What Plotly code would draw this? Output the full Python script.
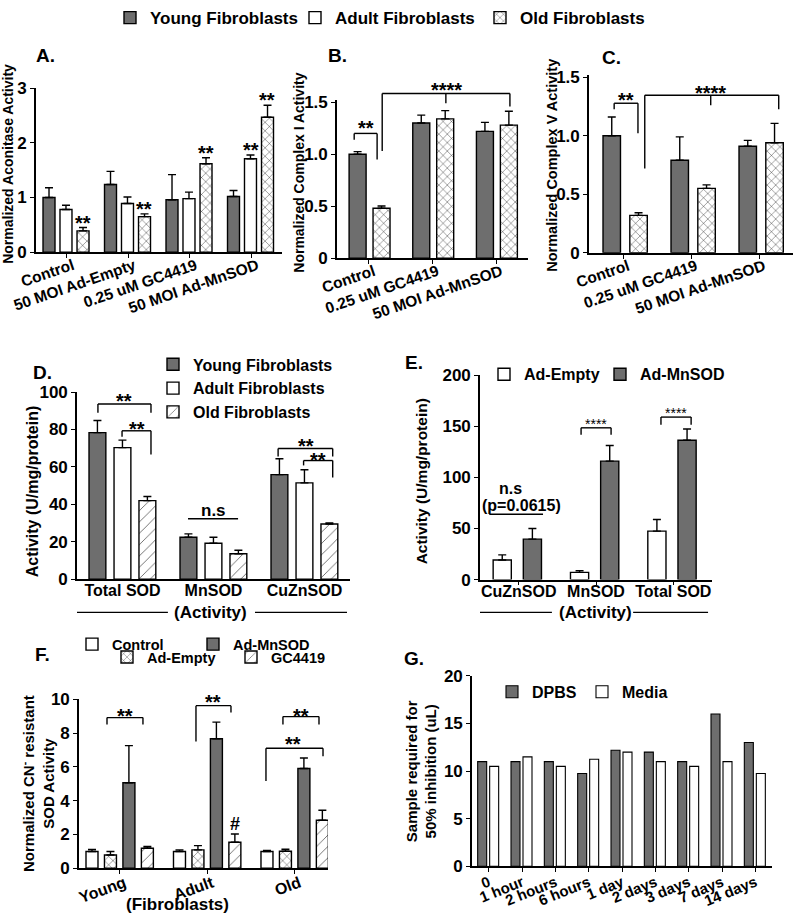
import plotly.graph_objects as go

FONT = "Arial, Liberation Sans, sans-serif"
YOUNG_GREY = "#6e6e6e"

# ---- panel A: aconitase activity
a_cats = ["Control", "50 MOI Ad-Empty", "0.25 uM GC4419", "50 MOI Ad-MnSOD"]
a_young = [1.00, 1.24, 0.96, 1.02]
a_young_err = [0.18, 0.24, 0.46, 0.11]
a_adult = [0.78, 0.89, 0.98, 1.71]
a_adult_err = [0.08, 0.12, 0.12, 0.07]
a_old = [0.39, 0.65, 1.62, 2.47]
a_old_err = [0.06, 0.05, 0.11, 0.22]

# ---- panel B: complex I
b_cats = ["Control", "0.25 uM GC4419", "50 MOI Ad-MnSOD"]
b_young = [1.00, 1.30, 1.22]
b_young_err = [0.025, 0.076, 0.086]
b_old = [0.48, 1.34, 1.28]
b_old_err = [0.022, 0.08, 0.133]

# ---- panel C: complex V
c_cats = ["Control", "0.25 uM GC4419", "50 MOI Ad-MnSOD"]
c_young = [1.00, 0.79, 0.91]
c_young_err = [0.16, 0.20, 0.05]
c_old = [0.32, 0.55, 0.94]
c_old_err = [0.022, 0.03, 0.165]

# ---- panel D: SOD activity by age
d_cats = ["Total SOD", "MnSOD", "CuZnSOD"]
d_young = [78.3, 22.4, 55.9]
d_young_err = [6.5, 1.8, 8.5]
d_adult = [70.3, 19.2, 51.5]
d_adult_err = [4.0, 3.2, 7.0]
d_old = [42.0, 13.6, 29.5]
d_old_err = [2.2, 1.9, 0.5]

# ---- panel E: Ad-Empty vs Ad-MnSOD
e_cats = ["CuZnSOD", "MnSOD", "Total SOD"]
e_empty = [19.2, 7.1, 47.4]
e_empty_err = [5.0, 1.7, 11.4]
e_mnsod = [39.6, 115.9, 136.4]
e_mnsod_err = [10.4, 15.3, 11.0]

# ---- panel F: CN- resistant SOD
f_cats = ["Young", "Adult", "Old"]
f_control = [0.98, 0.98, 0.98]
f_control_err = [0.12, 0.10, 0.06]
f_empty = [0.78, 1.08, 1.00]
f_empty_err = [0.20, 0.25, 0.12]
f_mnsod = [5.06, 7.67, 5.90]
f_mnsod_err = [2.20, 0.98, 0.63]
f_gc = [1.18, 1.53, 2.84]
f_gc_err = [0.10, 0.49, 0.59]

# ---- panel G: sample stability
g_cats = ["0", "1 hour", "2 hours", "6 hours", "1 day", "2 days", "3 days", "7 days", "14 days"]
g_dpbs = [11.0, 11.0, 11.0, 9.75, 12.2, 12.0, 11.0, 16.0, 13.0]
g_media = [10.5, 11.5, 10.5, 11.25, 12.0, 11.0, 10.5, 11.0, 9.75]

W, H = 800, 920
OUT = dict(color="black", width=1.4)
SOLID = dict(color=YOUNG_GREY, line=OUT)
WHITE = dict(color="white", line=OUT)
CROSS = dict(color="white", line=OUT,
             pattern=dict(shape="x", fgcolor="black", bgcolor="white", size=6, solidity=0.12))
HATCH = dict(color="white", line=OUT,
             pattern=dict(shape="/", fgcolor="#555", bgcolor="white", size=8, solidity=0.1))

# axis boxes in pixels (left, right, top, bottom) and ranges
panels = {
    "":  dict(px=(36, 282, 82, 247), xr=(-0.5, 3.5), yr=(0, 3)),
    "2": dict(px=(337, 528, 93.9, 253), xr=(-0.5, 2.5), yr=(0, 1.52)),
    "3": dict(px=(589, 793, 68.3, 247.7), xr=(-0.5, 2.5), yr=(0, 1.52)),
    "4": dict(px=(77, 350, 388, 576.6), xr=(-0.5, 2.5), yr=(0, 100)),
    "5": dict(px=(480, 712, 371, 577), xr=(-0.5, 2.5), yr=(0, 200)),
    "6": dict(px=(79, 328, 697.7, 867.7), xr=(-0.463, 2.383), yr=(0, 10)),
    "7": dict(px=(472, 772, 674, 866), xr=(-0.5, 8.5), yr=(0, 20)),
}

fig = go.Figure()


def bars(ax, x, y, err, name, style, width, offset, legend=None):
    eb = None
    if err is not None:
        eb = dict(type="data", array=err, arrayminus=[0] * len(err), symmetric=False,
                  color="black", thickness=1.4, width=4)
    fig.add_trace(go.Bar(
        x=x, y=y, name=name, xaxis="x" + ax, yaxis="y" + ax,
        width=width, offset=offset, marker=style, error_y=eb,
        showlegend=legend is not None, legend=legend or "legend",
    ))


# A
bars("", a_cats, a_young, a_young_err, "Young Fibroblasts", SOLID, 0.195, -0.386, "legend")
bars("", a_cats, a_adult, a_adult_err, "Adult Fibroblasts", WHITE, 0.195, -0.11, "legend")
bars("", a_cats, a_old, a_old_err, "Old Fibroblasts", CROSS, 0.195, 0.167, "legend")
# B
bars("2", b_cats, b_young, b_young_err, "Young", SOLID, 0.267, -0.31)
bars("2", b_cats, b_old, b_old_err, "Old", CROSS, 0.267, 0.066)
# C
bars("3", c_cats, c_young, c_young_err, "Young", SOLID, 0.257, -0.294)
bars("3", c_cats, c_old, c_old_err, "Old", CROSS, 0.257, 0.1)
# D
bars("4", d_cats, d_young, d_young_err, "Young Fibroblasts", SOLID, 0.185, -0.368, "legend2")
bars("4", d_cats, d_adult, d_adult_err, "Adult Fibroblasts", WHITE, 0.185, -0.093, "legend2")
bars("4", d_cats, d_old, d_old_err, "Old Fibroblasts", HATCH, 0.185, 0.181, "legend2")
# E
bars("5", e_cats, e_empty, e_empty_err, "Ad-Empty", WHITE, 0.235, -0.33, "legend3")
bars("5", e_cats, e_mnsod, e_mnsod_err, "Ad-MnSOD", SOLID, 0.235, 0.06, "legend7")
# F
bars("6", f_cats, f_control, f_control_err, "Control", WHITE, 0.137, -0.383, "legend4")
bars("6", f_cats, f_empty, f_empty_err, "Ad-Empty", CROSS, 0.137, -0.172, "legend5")
bars("6", f_cats, f_mnsod, f_mnsod_err, "Ad-MnSOD", SOLID, 0.137, 0.039, "legend4")
bars("6", f_cats, f_gc, f_gc_err, "GC4419", HATCH, 0.137, 0.25, "legend5")
# G
bars("7", g_cats, g_dpbs, None, "DPBS", dict(color=YOUNG_GREY, line=dict(color="black", width=1.1)), 0.27, -0.33, "legend6")
bars("7", g_cats, g_media, None, "Media", dict(color="white", line=dict(color="black", width=1.1)), 0.27, 0.03, "legend6")

x_angles = {"": -19, "2": -19, "3": -19, "4": 0, "5": 0, "6": -20, "7": -22}
x_sizes = {"": 15.5, "2": 15.5, "3": 15.5, "4": 16, "5": 16, "6": 16, "7": 15}
# (standoff, shift) of the category labels
x_label_pos = {"": (-7, 6), "2": (-7, 5), "3": (-7, 5), "4": (-4, 0), "5": (-8, 0),
               "6": (-6, 5), "7": (-4, 0)}
x_ticks = {"": "outside", "2": "outside", "3": "outside", "4": "", "5": "outside",
           "6": "outside", "7": "outside"}
y_ticks = {
    "": ([0, 1, 2, 3], ["0", "1", "2", "3"]),
    "2": ([0, 0.5, 1, 1.5], ["0", "0.5", "1.0", "1.5"]),
    "3": ([0, 0.5, 1, 1.5], ["0", "0.5", "1.0", "1.5"]),
    "4": ([0, 20, 40, 60, 80, 100], None),
    "5": ([0, 50, 100, 150, 200], None),
    "6": ([0, 2, 4, 6, 8, 10], None),
    "7": ([0, 5, 10, 15, 20], None),
}

layout_axes = {}
for ax, p in panels.items():
    l, r, t, b = p["px"]
    common = dict(showline=True, linecolor="black", linewidth=1.6, showgrid=False,
                  zeroline=False, ticks="outside", ticklen=4, tickwidth=1.4,
                  tickcolor="black", automargin=False, fixedrange=True)
    xa = dict(common, domain=[l / W, r / W], anchor="y" + ax,
              type="category", range=list(p["xr"]),
              tickangle=x_angles[ax],
              tickfont=dict(family=FONT, size=x_sizes[ax], color="black", weight="bold"),
              ticklabelstandoff=x_label_pos[ax][0], ticklabelshift=x_label_pos[ax][1])
    xa["ticks"] = x_ticks[ax]
    layout_axes["xaxis" + ax] = xa
    tv, tt = y_ticks[ax]
    ya = dict(common, domain=[1 - b / H, 1 - t / H], anchor="x" + ax,
              range=list(p["yr"]), tickvals=tv,
              tickfont=dict(family=FONT, size=17, color="black", weight="bold"))
    if tt:
        ya["ticktext"] = tt
    layout_axes["yaxis" + ax] = ya

shapes = []
annotations = []


def to_dom(ax, x, y):
    p = panels[ax]
    return ((x - p["xr"][0]) / (p["xr"][1] - p["xr"][0]),
            (y - p["yr"][0]) / (p["yr"][1] - p["yr"][0]))


def seg(ax, x0, y0, x1, y1, w=1.4):
    a0 = to_dom(ax, x0, y0)
    a1 = to_dom(ax, x1, y1)
    shapes.append(dict(type="line", xref="x%s domain" % ax, yref="y%s domain" % ax,
                       x0=a0[0], y0=a0[1], x1=a1[0], y1=a1[1],
                       line=dict(color="black", width=w)))


def bracket(ax, x0, x1, top, yl, yr, mid=None):
    seg(ax, x0, yl, x0, top)
    seg(ax, x0, top, x1, top)
    seg(ax, x1, top, x1, yr)
    if mid:
        seg(ax, mid[0], top, mid[0], mid[1])


def label(ax, x, y, text, size=20, bold=True, shift=-5):
    fx, fy = to_dom(ax, x, y)
    annotations.append(dict(xref="x%s domain" % ax, yref="y%s domain" % ax, x=fx, y=fy,
                            text=text, showarrow=False, xanchor="center", yanchor="middle",
                            yshift=shift,
                            font=dict(family=FONT, size=size, color="black",
                                      weight="bold" if bold else "normal")))


def paper_text(px, py, text, size, angle=0):
    annotations.append(dict(xref="paper", yref="paper", x=px / W, y=1 - py / H, text=text,
                            showarrow=False, textangle=angle, xanchor="center", yanchor="middle",
                            font=dict(family=FONT, size=size, color="black", weight="bold")))


# A stars
for g, off, top in [(0, 0.264, a_old[0] + a_old_err[0]), (1, 0.264, a_old[1] + a_old_err[1]),
                    (2, 0.264, a_old[2] + a_old_err[2]), (3, -0.012, a_adult[3] + a_adult_err[3]),
                    (3, 0.264, a_old[3] + a_old_err[3])]:
    label("", g + off, top + 0.18, "**")

# B
bracket("2", -0.23, 0.13, 1.20, 1.14, 0.95)
label("2", -0.05, 1.30, "**")
bracket("2", 0.21, 2.216, 1.585, 1.03, 1.46, mid=(1.21, 1.49))
label("2", 1.22, 1.67, "****")

# C
bracket("3", -0.13, 0.22, 1.277, 1.226, 1.02)
label("3", 0.04, 1.345, "**")
bracket("3", 0.32, 2.29, 1.345, 0.72, 1.226, mid=(1.29, 1.26))
label("3", 1.29, 1.41, "****")

# D
bracket("4", -0.27, 0.313, 93.6, 88.9, 88.9)
label("4", 0.02, 97.9, "**")
bracket("4", -0.005, 0.313, 79.3, 76.1, 66.6)
label("4", 0.16, 83.0, "**")
seg("4", 0.72, 32.3, 1.27, 32.3)
label("4", 1.0, 36.5, "n.s", size=17, shift=0)
bracket("4", 1.71, 2.31, 69.8, 65.5, 65.5)
label("4", 2.02, 74.0, "**")
bracket("4", 1.99, 2.31, 63.4, 60.8, 54.4)
label("4", 2.15, 66.1, "**")

# E
seg("5", -0.38, 64, 0.315, 64)
label("5", -0.11, 89.3, "n.s", size=16, shift=0)
label("5", 0.04, 72.8, "(p=0.0615)", size=16, shift=0)
bracket("5", 0.807, 1.195, 148.5, 141.7, 141.7)
label("5", 1.0, 155, "****", size=14, bold=False, shift=-3)
bracket("5", 1.84, 2.23, 159, 151.5, 151.5)
label("5", 2.04, 166, "****", size=14, bold=False, shift=-3)

# F
bracket("6", -0.143, 0.268, 8.92, 8.51, 8.51)
label("6", 0.063, 9.33, "**")
bracket("6", 0.874, 1.274, 9.63, 7.51, 9.22)
label("6", 1.068, 10.16, "**")
bracket("6", 1.868, 2.28, 8.98, 8.51, 8.51)
label("6", 2.074, 9.33, "**")
bracket("6", 1.674, 2.326, 7.10, 5.16, 6.63)
label("6", 1.98, 7.63, "**")
label("6", 1.32, 2.63, "#", size=18, shift=0)

# x-axis group captions under D, E, F
for ax, y, segs, cx, txt in [("4", -0.177, [(0, 0.333), (0.652, 0.989)], 0.49, "(Activity)"),
                             ("5", -0.16, [(0, 0.31), (0.66, 0.983)], 0.496, "(Activity)")]:
    for a, b in segs:
        shapes.append(dict(type="line", xref="x%s domain" % ax, yref="y%s domain" % ax,
                           x0=a, x1=b, y0=y, y1=y, line=dict(color="black", width=1.2)))
    annotations.append(dict(xref="x%s domain" % ax, yref="y%s domain" % ax, x=cx, y=y,
                            text=txt, showarrow=False, xanchor="center", yanchor="middle",
                            font=dict(family=FONT, size=17, color="black", weight="bold")))
annotations.append(dict(xref="x6 domain", yref="y6 domain", x=0.394, y=-0.214,
                        text="(Fibroblasts)", showarrow=False, xanchor="center", yanchor="middle",
                        font=dict(family=FONT, size=17, color="black", weight="bold")))

# panel letters
for px, py, t in [(45, 49, "A."), (337, 49, "B."), (611, 51, "C."), (42, 368, "D."),
                  (414, 358, "E."), (42, 652, "F."), (414, 656, "G.")]:
    paper_text(px, py, t, 19)

# y-axis titles
paper_text(8, 158, "Normalized Aconitase Activity", 14, -90)
paper_text(299, 167, "Normalized Complex I Activity", 14, -90)
paper_text(552, 160, "Normalized Complex V Activity", 14.5, -90)
paper_text(32, 488, "Activity (U/mg/protein)", 16, -90)
paper_text(421, 478, "Activity (U/mg/protein)", 15.5, -90)
paper_text(37, 783, "Normalized CN<sup>-</sup> resistant<br>SOD Activity", 15, -90)
paper_text(421, 770, "Sample required for<br>50% inhibition (uL)", 15, -90)


def legend_box(tx, cy, size, horizontal=True, entry=None):
    d = dict(x=(tx - 40) / W, y=1 - (cy - 19) / H, xanchor="left", yanchor="top",
             bgcolor="rgba(0,0,0,0)", borderwidth=0, traceorder="normal",
             font=dict(family=FONT, size=size, color="black", weight="bold"))
    if horizontal:
        d["orientation"] = "h"
    if entry:
        d["entrywidth"] = entry
        d["entrywidthmode"] = "pixels"
    return d


fig.update_layout(
    width=W, height=H, margin=dict(l=0, r=0, t=0, b=0),
    paper_bgcolor="white", plot_bgcolor="white", template="none",
    barmode="overlay", font=dict(family=FONT, color="black"),
    legend=legend_box(150, 12, 17, entry=140),
    legend2=legend_box(193, 362, 16, horizontal=False),
    legend3=legend_box(524, 372, 16),
    legend7=legend_box(640, 372, 16),
    legend4=legend_box(112, 645, 14.5, entry=76),
    legend5=legend_box(147, 658, 14.5, entry=79),
    legend6=legend_box(532, 692, 16, entry=45),
    shapes=shapes, annotations=annotations,
    **layout_axes,
)

fig.write_html("out.html", config={"displayModeBar": False},
               post_script="document.body.style.margin='0';")
